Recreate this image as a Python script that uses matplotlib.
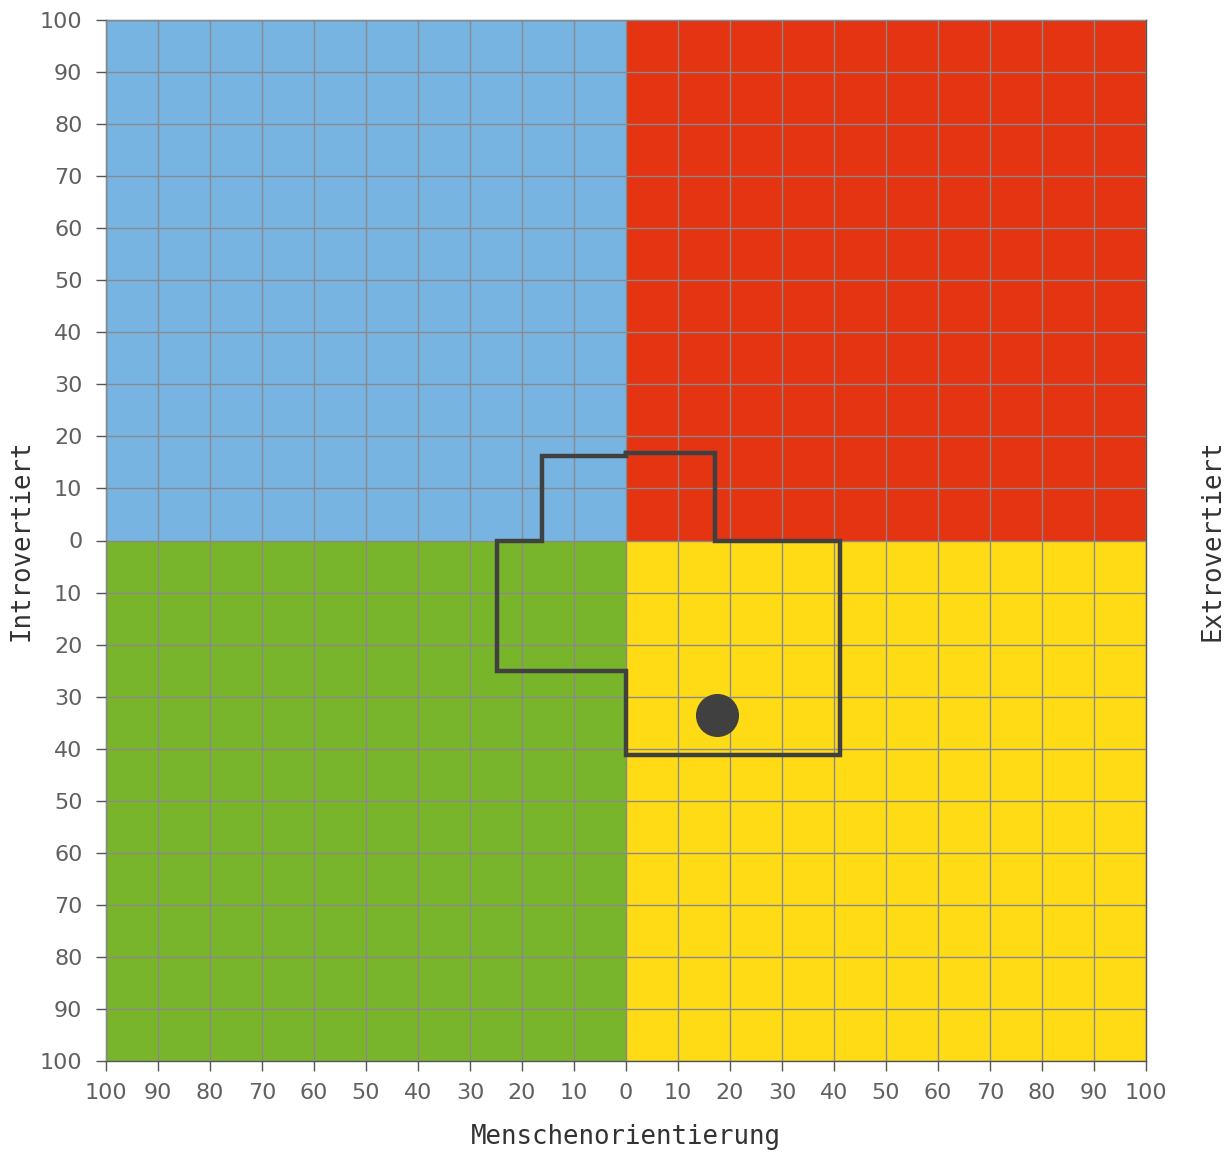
import numpy as np
import matplotlib.pyplot as plt
from matplotlib.patches import Rectangle

# quadrant fills: (x0, y0, colour)
quad_x = [-100, 0, -100, 0]
quad_y = [0, 0, -100, -100]
quad_col = ['#78b4e2', '#e43412', '#78b52a', '#fedb14']

# outline of the profile area
shape_x = [0, 17.1, 17.1, 41.2, 41.2, 0, 0, -24.8, -24.8, -16.2, -16.2, 0, 0]
shape_y = [16.9, 16.9, 0, 0, -41.2, -41.2, -25, -25, 0, 0, 16.2, 16.2, 16.9]

# the single result point
pt_x = [17.5]
pt_y = [-33.5]

ticks = np.arange(-100, 101, 10)
tick_labels = [str(abs(t)) for t in ticks]

fig = plt.figure(figsize=(12.28, 11.54), dpi=100)
ax = fig.add_axes([106/1228, 1 - 1061/1154, 1040/1228, 1041/1154])

for i in range(4):
    ax.add_patch(Rectangle((quad_x[i], quad_y[i]), 100, 100,
                           facecolor=quad_col[i], edgecolor='none', zorder=0))

ax.set_xlim(-100, 100)
ax.set_ylim(-100, 100)
ax.set_xticks(ticks)
ax.set_yticks(ticks)
ax.set_xticklabels(tick_labels)
ax.set_yticklabels(tick_labels)
ax.grid(True, color='#8a8a8a', linewidth=1.0, zorder=1)
ax.set_axisbelow(False)
ax.tick_params(length=7, width=1, color='#555555', labelcolor='#606060',
               labelsize=16)
ax.tick_params(axis='x', pad=9)
ax.tick_params(axis='y', pad=10)
for s in ax.spines.values():
    s.set_color('#555555')
    s.set_linewidth(1)

ax.plot(shape_x, shape_y, color='#404040', linewidth=3.2, zorder=3,
        solid_joinstyle='miter')
ax.plot(pt_x, pt_y, 'o', color='#404040', markersize=30, zorder=4)

fig.text(626/1228, 1 - 1137/1154, 'Menschenorientierung', family='DejaVu Sans Mono',
         fontsize=18.5, color='#333333', ha='center', va='center')
fig.text(22/1228, 1 - 540/1154, 'Introvertiert', family='DejaVu Sans Mono',
         fontsize=18.5, color='#333333', rotation=90, ha='center', va='center')
fig.text(1212/1228, 1 - 540/1154, 'Extrovertiert', family='DejaVu Sans Mono',
         fontsize=18.5, color='#333333', rotation=90, ha='center', va='center')

fig.savefig('out.png', dpi=100)
